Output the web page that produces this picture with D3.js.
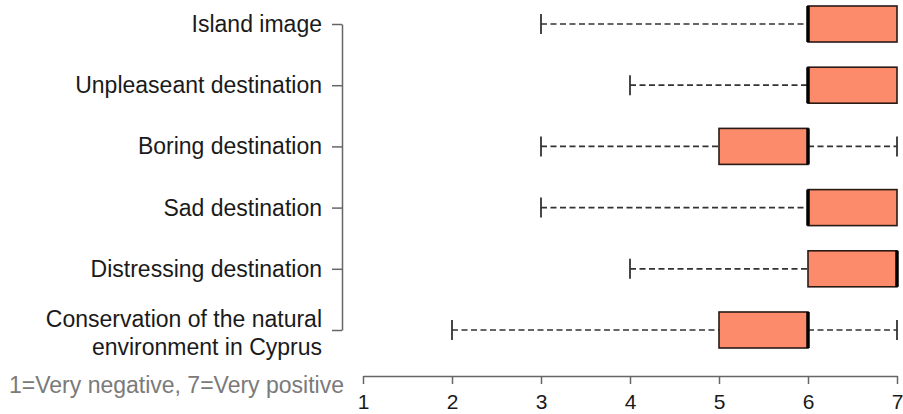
<!DOCTYPE html>
<html>
<head>
<meta charset="utf-8">
<script src="https://cdn.jsdelivr.net/npm/d3@7"></script>
<style>
  body { margin: 0; background: #fff; }
  text { font-family: "Liberation Sans", Arial, sans-serif; }
</style>
</head>
<body>
<div id="chart"></div>
<script>
// categories, top to bottom (spelling as in the original)
const categories = [
  "Island image",
  "Unpleaseant destination",
  "Boring destination",
  "Sad destination",
  "Distressing destination",
  "Conservation of the natural|environment in Cyprus"
];
// five-number summaries
const mins    = [3, 4, 3, 3, 4, 2];
const q1s     = [6, 6, 5, 6, 6, 5];
const medians = [6, 6, 6, 6, 7, 6];
const q3s     = [7, 7, 6, 7, 7, 6];
const maxs    = [7, 7, 7, 7, 7, 7];
const xTicks = [1, 2, 3, 4, 5, 6, 7];

const data = categories.map((c, i) => ({
  cat: c, min: mins[i], q1: q1s[i], med: medians[i], q3: q3s[i], max: maxs[i]
}));

const svg = d3.select("#chart")
  .append("svg")
    .attr("width", 903)
    .attr("height", 414);

const x = d3.scaleLinear().domain([1, 7]).range([363, 897]);
const y = d3.scalePoint().domain(categories).range([24, 330]);

// y axis
const yAxis = svg.append("g")
  .attr("transform", "translate(342,0)")
  .call(d3.axisLeft(y).tickSizeInner(10).tickSizeOuter(0).tickFormat(""));
yAxis.select(".domain").attr("stroke", "#666").attr("stroke-width", 1.5);
yAxis.selectAll(".tick line").attr("stroke", "#666").attr("stroke-width", 1.5);

// category labels
svg.append("g").selectAll("text")
  .data(categories)
  .join("text")
    .attr("x", 322)
    .attr("y", d => y(d))
    .attr("text-anchor", "end")
    .attr("font-size", "23px")
    .attr("fill", "#1a1a1a")
    .each(function(d) {
      const lines = d.split("|");
      const t = d3.select(this);
      lines.forEach((l, i) => {
        t.append("tspan")
          .attr("x", 322)
          .attr("dy", i === 0 ? (lines.length > 1 ? -3 : 8) : 28)
          .text(l);
      });
    });

// x axis
const xAxis = svg.append("g")
  .attr("transform", "translate(0,376)")
  .call(d3.axisBottom(x).tickValues(xTicks).tickSizeInner(8).tickSizeOuter(0).tickFormat(d3.format("d")));
xAxis.select(".domain").attr("stroke", "#666").attr("stroke-width", 1.5);
xAxis.selectAll(".tick line").attr("stroke", "#666").attr("stroke-width", 1.5);
xAxis.selectAll(".tick text")
  .attr("font-size", "21px")
  .attr("fill", "#1a1a1a")
  .attr("y", 33)
  .attr("dy", 0)
  .attr("font-family", "Liberation Sans, Arial, sans-serif");

svg.append("text")
  .attr("x", 344)
  .attr("y", 393)
  .attr("text-anchor", "end")
  .attr("font-size", "23px")
  .attr("fill", "#7a7a7a")
  .text("1=Very negative, 7=Very positive");

// boxplots
const boxH = 36;
const capH = 20;
const g = svg.append("g");

data.forEach(d => {
  const cy = y(d.cat);
  // lower whisker
  if (d.min < d.q1) {
    g.append("line")
      .attr("x1", x(d.min)).attr("x2", x(d.q1))
      .attr("y1", cy).attr("y2", cy)
      .attr("stroke", "#333").attr("stroke-width", 1.7)
      .attr("stroke-dasharray", "6,3.5");
    g.append("line")
      .attr("x1", x(d.min)).attr("x2", x(d.min))
      .attr("y1", cy - capH / 2).attr("y2", cy + capH / 2)
      .attr("stroke", "#333").attr("stroke-width", 1.8);
  }
  // upper whisker
  if (d.max > d.q3) {
    g.append("line")
      .attr("x1", x(d.q3)).attr("x2", x(d.max))
      .attr("y1", cy).attr("y2", cy)
      .attr("stroke", "#333").attr("stroke-width", 1.7)
      .attr("stroke-dasharray", "6,3.5");
    g.append("line")
      .attr("x1", x(d.max)).attr("x2", x(d.max))
      .attr("y1", cy - capH / 2).attr("y2", cy + capH / 2)
      .attr("stroke", "#333").attr("stroke-width", 1.8);
  }
  // box
  g.append("rect")
    .attr("x", x(d.q1))
    .attr("y", cy - boxH / 2)
    .attr("width", x(d.q3) - x(d.q1))
    .attr("height", boxH)
    .attr("fill", "#fb8b6b")
    .attr("stroke", "#2a1a14")
    .attr("stroke-width", 1.6);
  // median
  g.append("line")
    .attr("x1", x(d.med)).attr("x2", x(d.med))
    .attr("y1", cy - boxH / 2).attr("y2", cy + boxH / 2)
    .attr("stroke", "#000").attr("stroke-width", 3.5);
});
</script>
</body>
</html>
